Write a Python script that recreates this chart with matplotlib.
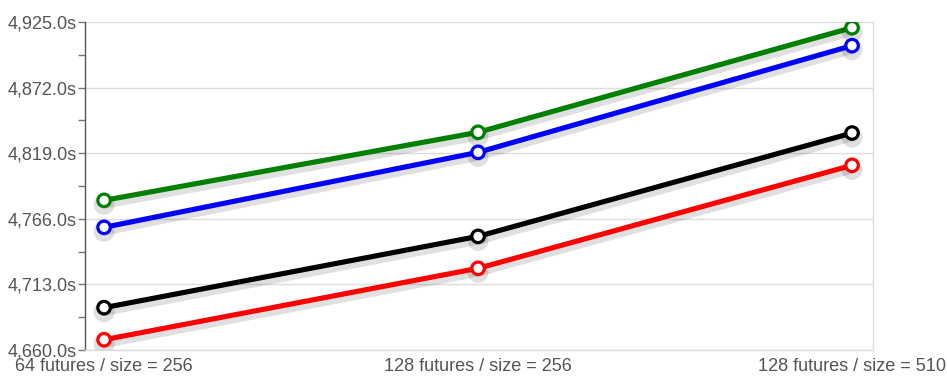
import matplotlib
matplotlib.use("Agg")
import matplotlib.pyplot as plt
import matplotlib.patheffects as pe
from matplotlib.ticker import FixedLocator

categories = ["64 futures / size = 256", "128 futures / size = 256", "128 futures / size = 510"]
green = [4780.9, 4835.9, 4920.4]
blue = [4759.1, 4819.7, 4905.9]
black = [4694.2, 4751.8, 4835.3]
red = [4668.3, 4726.0, 4809.2]
series = [("green", green, "#008000"), ("blue", blue, "#0000ff"),
          ("black", black, "#000000"), ("red", red, "#ff0000")]
yticks = [4660.0, 4713.0, 4766.0, 4819.0, 4872.0, 4925.0]

plt.rcParams['font.family'] = ['Liberation Sans', 'DejaVu Sans']
fig = plt.figure(figsize=(9.47, 3.76), dpi=100)
ax = fig.add_axes([85/947, 1-350/376, (873-85)/947, (350-22)/376])

x = list(range(len(categories)))
for name, vals, col in series:
    ax.plot(x, vals, color=col, lw=3.7, marker='o', ms=9, mfc='white', mec=col, mew=2.3,
            solid_capstyle='round', zorder=3,
            path_effects=[pe.SimpleLineShadow(offset=(0, -3), alpha=0.12, shadow_color='black',
                                              linewidth=6), pe.Normal()])

ax.set_xlim(-0.051, 2.056)
ax.set_ylim(4660, 4925)
ax.set_yticks(yticks)
ax.set_yticklabels([f"{v:,.1f}s" for v in yticks])
ax.yaxis.set_minor_locator(FixedLocator([(yticks[i] + yticks[i+1]) / 2 for i in range(len(yticks)-1)]))
ax.set_xticks(x)
ax.set_xticklabels(categories)
ax.grid(axis='y', color='#dddddd', lw=1)
ax.set_axisbelow(True)
ax.tick_params(axis='y', which='both', length=5, width=1, color='#777777', pad=1,
               labelsize=13.1, labelcolor='#555555')
ax.tick_params(axis='x', length=0, pad=6, labelsize=13.1, labelcolor='#555555')
for s in ['top', 'right', 'bottom']:
    ax.spines[s].set_color('#dddddd')
    ax.spines[s].set_linewidth(1)
ax.spines['top'].set_visible(False)
ax.spines['left'].set_color('#555555')
ax.spines['left'].set_linewidth(1)

fig.savefig("out.png", dpi=100)
